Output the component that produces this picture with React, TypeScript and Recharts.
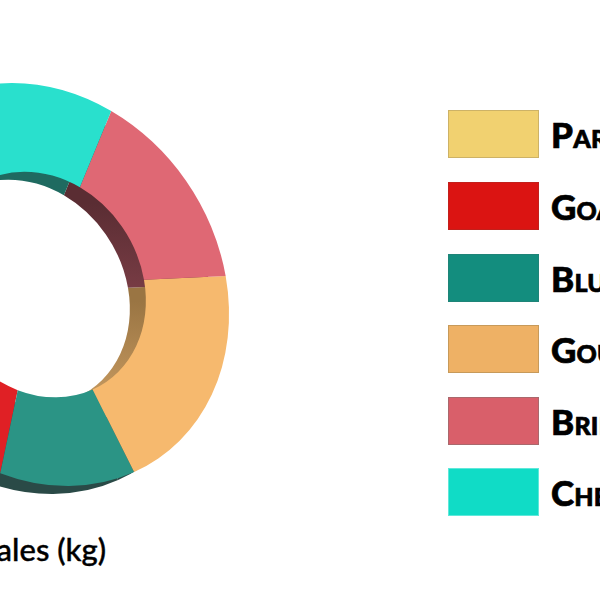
import React from "react";
import { PieChart, Pie, Cell, Legend } from "recharts";

const categories = ["Parmesan", "Goat", "Blue", "Gouda", "Brie", "Cheddar"];
const salesKg = [85, 43.5, 42, 71, 57, 61.5];
const faceColors = ["#F5D678", "#E02025", "#2B9485", "#F6B96E", "#DF6874", "#29E0CD"];
const wallColors = ["#8a7a45", "#5c1a1c", "#2A4A47", "url(#wallGouda)", "url(#wallBrie)", "#1F6A60"];
const legendFill = ["#F1D170", "#DB1412", "#138D7E", "#EEB165", "#D95F6A", "#10DCC6"];
const legendStroke = ["#CDB266", "#C2201C", "#1F8478", "#C79A5A", "#A9686C", "#5FE8DA"];

const rows = categories.map((name, i) => ({ name, value: salesKg[i] }));

const css = `
.face-layer { transform: matrix(.9425,.0719,.0719,1.005,-18.16,-4.3); }
.wall-layer { transform: matrix(.9425,.0719,.0719,1.005,-34.16,3.7); }
.face-layer .face-layer, .wall-layer .wall-layer { transform: none; }
`;

function LegendList() {
  return (
    <div style={{ width: 300 }}>
      {categories.map((c, i) => (
        <div key={c} style={{ display: "flex", alignItems: "center", height: 48, marginBottom: 23.6 }}>
          <div
            style={{
              width: 89,
              height: 46,
              background: legendFill[i],
              border: `1px solid ${legendStroke[i]}`,
              flex: "none",
            }}
          />
          <span
            style={{
              marginLeft: 12,
              fontFamily: "Lato",
              fontWeight: 900,
              fontSize: 35,
              letterSpacing: 0.2,
              WebkitTextStroke: "0.7px #000",
              fontVariant: "small-caps",
              color: "#000",
              whiteSpace: "nowrap",
              lineHeight: "48px",
            }}
          >
            {c}
          </span>
        </div>
      ))}
    </div>
  );
}

export default function App() {
  return (
    <div style={{ position: "fixed", left: 0, top: 0, width: 600, height: 600, overflow: "hidden", background: "#fff" }}>
      <style>{css}</style>
      <PieChart width={760} height={600} margin={{ top: 0, right: 0, bottom: 0, left: 0 }}>
        <defs>
          <linearGradient id="wallGouda" gradientUnits="userSpaceOnUse" x1="0" y1="285" x2="0" y2="500">
            <stop offset="0" stopColor="#9A7543" />
            <stop offset="0.51" stopColor="#C99C62" />
            <stop offset="0.55" stopColor="#C99C62" />
            <stop offset="0.55" stopColor="#2A4A47" />
            <stop offset="1" stopColor="#2A4A47" />
          </linearGradient>
          <linearGradient id="wallBrie" gradientUnits="userSpaceOnUse" x1="0" y1="190" x2="0" y2="290">
            <stop offset="0" stopColor="#5A2D33" />
            <stop offset="1" stopColor="#7E3F48" />
          </linearGradient>
        </defs>
        <Pie
          className="wall-layer"
          data={rows}
          dataKey="value"
          nameKey="name"
          cx={40}
          cy={284.5}
          innerRadius={112}
          outerRadius={200}
          startAngle={125}
          endAngle={485}
          stroke="none"
          legendType="none"
          isAnimationActive={false}
        >
          {rows.map((r, i) => (
            <Cell key={r.name} fill={wallColors[i]} />
          ))}
        </Pie>
        <Pie
          className="face-layer"
          data={rows}
          dataKey="value"
          nameKey="name"
          cx={40}
          cy={284.5}
          innerRadius={112}
          outerRadius={200}
          startAngle={125}
          endAngle={485}
          stroke="none"
          isAnimationActive={false}
        >
          {rows.map((r, i) => (
            <Cell key={r.name} fill={faceColors[i]} />
          ))}
        </Pie>
        <Legend
          layout="vertical"
          content={() => <LegendList />}
          wrapperStyle={{ position: "absolute", left: 448, top: 110.4, width: 300, bottom: "auto", right: "auto" }}
        />
        <text x={106} y={561} textAnchor="end" fontFamily="Lato" fontWeight={500} fontSize={31} stroke="#000" strokeWidth={0.4} fill="#000">
          Sales (kg)
        </text>
      </PieChart>
    </div>
  );
}
